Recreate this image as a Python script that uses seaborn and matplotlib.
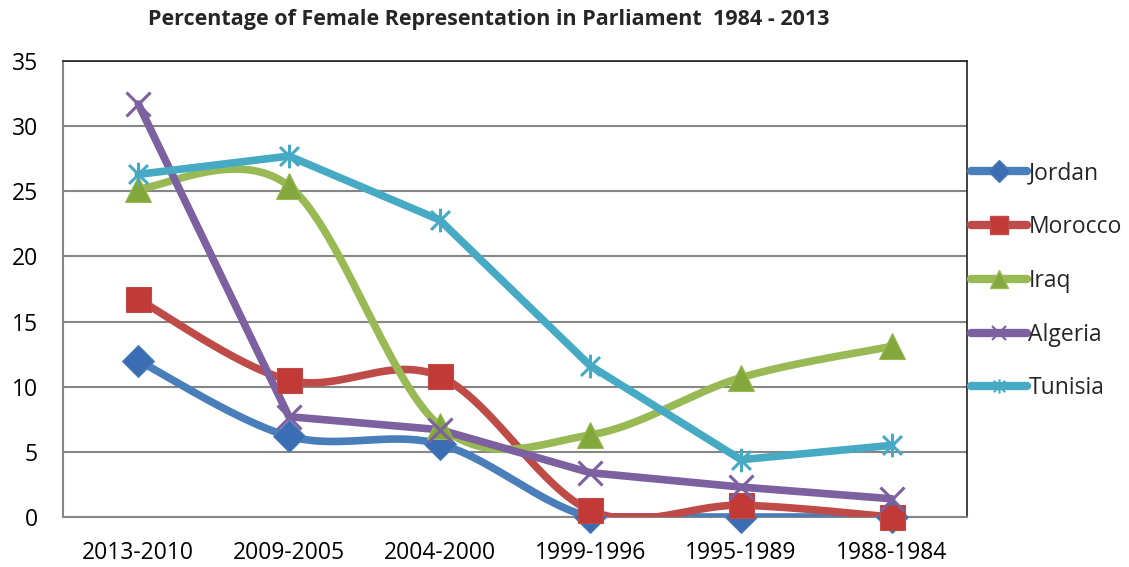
import numpy as np
import pandas as pd
import matplotlib
matplotlib.use("Agg")
import matplotlib.pyplot as plt
import seaborn as sns
from matplotlib.lines import Line2D
from matplotlib.path import Path

periods = ["2013-2010", "2009-2005", "2004-2000", "1999-1996", "1995-1989", "1988-1984"]
jordan = [12.0, 6.2, 5.6, 0.0, 0.0, 0.0]
morocco = [16.7, 10.5, 10.8, 0.5, 0.9, 0.0]
iraq = [25.2, 25.4, 7.0, 6.3, 10.7, 13.1]
algeria = [31.7, 7.7, 6.7, 3.4, 2.3, 1.4]
tunisia = [26.3, 27.7, 22.8, 11.6, 4.4, 5.5]

countries = ["Jordan", "Morocco", "Iraq", "Algeria", "Tunisia"]
series = [jordan, morocco, iraq, algeria, tunisia]
smoothed = [True, True, True, False, False]
colors = ["#4A7EBB", "#BE4B48", "#98B954", "#7D60A0", "#46AAC5"]
mcolors = ["#3A6DB3", "#C23A36", "#82A83C", "#7D60A0", "#46AAC5"]

star = Path([(-1, -1), (1, 1), (-1, 1), (1, -1), (0, -1.25), (0, 1.25)],
            [Path.MOVETO, Path.LINETO, Path.MOVETO, Path.LINETO, Path.MOVETO, Path.LINETO])
markers = ["D", "s", "^", "x", star]
msizes = [16, 18, 19, 17, 17]
stroke = [False, False, False, True, True]

sns.set_theme(style="white")
plt.rcParams["font.family"] = ["Open Sans", "DejaVu Sans"]

fig = plt.figure(figsize=(11.29, 5.67), dpi=100)
ax = fig.add_axes([63 / 1129, 1 - 517 / 567, 904 / 1129, 456 / 567])

XS, YS = 149.0, 13.03  # screen proportions used for smoothing


def smooth(y):
    """Excel-like Bezier smoothing (tension 1/6) of the data points."""
    y = np.asarray(y, dtype=float)
    n = len(y)
    P = np.column_stack([np.arange(n) * XS, y * YS])
    xs, ys = [], []
    for i in range(n - 1):
        p0 = P[max(i - 1, 0)]
        p1 = P[i]
        p2 = P[i + 1]
        p3 = P[min(i + 2, n - 1)]
        c1 = p1 + (p2 - p0) / 6.0
        c2 = p2 - (p3 - p1) / 6.0
        t = np.linspace(0, 1, 50)[:, None]
        pts = ((1 - t) ** 3) * p1 + 3 * ((1 - t) ** 2) * t * c1 + 3 * (1 - t) * t ** 2 * c2 + t ** 3 * p2
        xs.extend(pts[:, 0] / XS); ys.extend(pts[:, 1] / YS)
    return np.array(xs), np.array(ys)


for name, vals, sm, col, mcol, mk, ms, st in zip(countries, series, smoothed, colors,
                                                mcolors, markers, msizes, stroke):
    if sm:
        sx, sy = smooth(vals)
        sy = np.clip(sy, 0, None)
    else:
        sx, sy = np.arange(len(vals), dtype=float), np.asarray(vals, dtype=float)
    df = pd.DataFrame({"x": sx, "y": sy})
    sns.lineplot(data=df, x="x", y="y", ax=ax, color=col, lw=5.5, sort=False,
                 solid_capstyle="round", solid_joinstyle="round", zorder=3)
    pdf = pd.DataFrame({"x": np.arange(len(vals)), "y": vals})
    if st:
        ax.plot(pdf["x"], pdf["y"], ls="none", marker=mk, ms=ms, mew=2.2,
                color=mcol, zorder=4, clip_on=False)
    else:
        ax.plot(pdf["x"], pdf["y"], ls="none", marker=mk, ms=ms, mew=0.8,
                mfc=mcol, mec=col, zorder=4, clip_on=False)

ax.set_xlim(-0.5, 5.5)
ax.set_ylim(0, 35)
ax.set_yticks(range(0, 36, 5))
ax.set_xticks(range(len(periods)))
ax.set_xticklabels(periods)
ax.set_xlabel("")
ax.set_ylabel("")
ax.tick_params(axis="both", labelsize=16.5, length=0, colors="black")
ax.tick_params(axis="y", pad=18)
ax.tick_params(axis="x", pad=17)
ax.grid(axis="y", color="#868686", lw=1.5)
ax.set_axisbelow(True)
for s in ["left", "bottom"]:
    ax.spines[s].set_color("#868686")
    ax.spines[s].set_linewidth(1.5)
for s in ["top", "right"]:
    ax.spines[s].set_color("#222222")
    ax.spines[s].set_linewidth(1.2)

fig.text(489 / 1129, 1 - 19 / 567, "Percentage of Female Representation in Parliament  1984 - 2013",
         ha="center", va="center", fontsize=15.5, fontweight="bold")

handles = []
for name, col, mcol, mk, ms, st in zip(countries, colors, mcolors, markers, msizes, stroke):
    if st:
        h = Line2D([], [], color=col, lw=6, marker=mk, ms=ms * 0.6, mew=1.5,
                   mec=mcol, solid_capstyle="round")
    else:
        h = Line2D([], [], color=col, lw=6, marker=mk, ms=ms * 0.7, mfc=mcol, mec=col,
                   solid_capstyle="round")
    handles.append(h)
leg = fig.legend(handles, countries, loc="upper left", bbox_to_anchor=(962 / 1129, 1 - 152 / 567),
                 frameon=False, fontsize=16.5, handlelength=2.45, handletextpad=0.05,
                 labelspacing=1.3, borderaxespad=0)

fig.savefig("out.png", dpi=100)
